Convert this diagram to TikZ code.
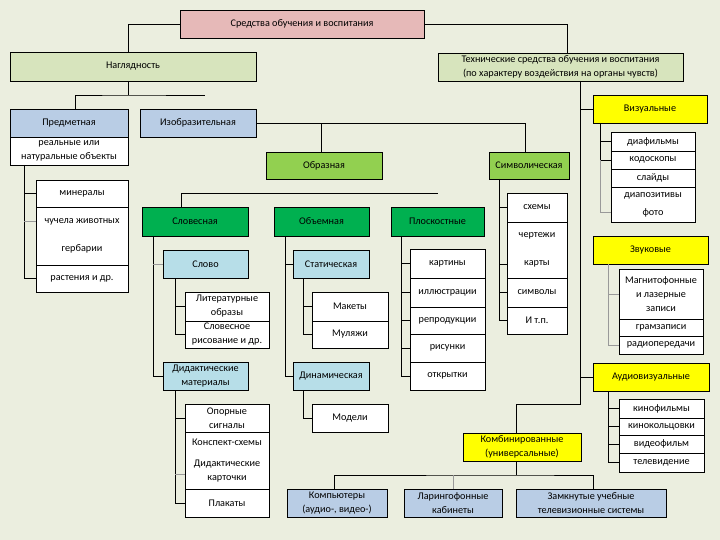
\documentclass[tikz,border=0pt]{standalone}
\usepackage{fontspec}
\setmainfont{Carlito}
\definecolor{bgcol}{HTML}{EBEEDF}
\definecolor{pinkfill}{HTML}{E6B9B8}
\definecolor{palegreen}{HTML}{D7E4BD}
\definecolor{bluegrey}{HTML}{B9CDE5}
\definecolor{limefill}{HTML}{92D050}
\definecolor{deepgreen}{HTML}{00B050}
\definecolor{skyfill}{HTML}{B7DEE8}
\definecolor{yelfill}{HTML}{FFFF00}
% box by its corners: name, x1, y1, x2, y2, style, text
\newcommand{\cellat}[7]{%
  \node[#6,minimum width={(#4)-(#2)},minimum height={(#5)-(#3)}] (#1)
    at ({((#2)+(#4))/2},{((#3)+(#5))/2}) {#7};}
\begin{document}
\begin{tikzpicture}[x=1pt,y=-1pt,
  cell/.style={draw=black,line width=0.8pt,inner sep=0pt,outer sep=0pt,align=center,
    font=\fontsize{10.2}{14}\selectfont},
  pinkbox/.style={cell,fill=pinkfill},
  palebox/.style={cell,fill=palegreen},
  greybox/.style={cell,fill=bluegrey},
  limebox/.style={cell,fill=limefill},
  deepbox/.style={cell,fill=deepgreen},
  skybox/.style={cell,fill=skyfill},
  yelbox/.style={cell,fill=yelfill},
  whitebox/.style={cell,fill=white},
  link/.style={draw=black,line width=0.7pt},
  faint/.style={draw=black!40,line width=0.7pt}]
  \fill[bgcol] (0,0) rectangle (720,540);
  \useasboundingbox (0,0) rectangle (720,540);

  \cellat{top}{180}{10}{424}{38}{pinkbox}{Средства обучения и воспитания}
  \cellat{nagl}{10}{52}{256}{81}{palebox}{Наглядность}
  \cellat{tech}{438}{53}{683}{81}{palebox}{Технические средства обучения и воспитания\\(по характеру воздействия на органы чувств)}

  % наглядность
  \cellat{predm}{10}{109}{128}{137}{greybox}{Предметная}
  \cellat{real}{10}{137}{128}{165}{whitebox}{реальные или\\натуральные объекты}
  \cellat{izobr}{140}{109}{256}{137}{greybox}{Изобразительная}
  \cellat{miner}{36}{180}{128}{207}{whitebox}{минералы}
  \cellat{chuch}{36}{207}{128}{265}{whitebox}{чучела животных\\[14pt]гербарии}
  \cellat{rast}{36}{265}{128}{292}{whitebox}{растения и др.}
  \cellat{obraz}{266}{152}{382}{179}{limebox}{Образная}
  \cellat{simv}{489}{152}{569}{179}{limebox}{Символическая}
  \cellat{slovesn}{142}{207}{248}{236}{deepbox}{Словесная}
  \cellat{obem}{274}{207}{369}{236}{deepbox}{Объемная}
  \cellat{plosk}{391}{207}{484}{236}{deepbox}{Плоскостные}
  \cellat{slovo}{163}{250}{248}{278}{skybox}{Слово}
  \cellat{lit}{185}{292}{269}{321}{whitebox}{Литературные\\образы}
  \cellat{slovris}{185}{321}{269}{348}{whitebox}{Словесное\\рисование и др.}
  \cellat{didak}{163}{362}{248}{390}{skybox}{Дидактические\\материалы}
  \cellat{opor}{185}{404}{269}{432}{whitebox}{Опорные\\сигналы}
  \cellat{konsp}{185}{432}{269}{489}{whitebox}{Конспект-схемы\\[7pt]Дидактические\\карточки}
  \cellat{plak}{185}{489}{269}{517}{whitebox}{Плакаты}
  \cellat{stat}{293}{250}{369}{278}{skybox}{Статическая}
  \cellat{maket}{312}{292}{388}{321}{whitebox}{Макеты}
  \cellat{mulyazh}{312}{321}{388}{348}{whitebox}{Муляжи}
  \cellat{dinam}{293}{362}{369}{390}{skybox}{Динамическая}
  \cellat{model}{312}{404}{388}{432}{whitebox}{Модели}
  \cellat{kart}{410}{249}{485}{278}{whitebox}{картины}
  \cellat{illy}{410}{278}{485}{307}{whitebox}{иллюстрации}
  \cellat{repr}{410}{307}{485}{334}{whitebox}{репродукции}
  \cellat{risun}{410}{334}{485}{362}{whitebox}{рисунки}
  \cellat{otkr}{410}{362}{485}{390}{whitebox}{открытки}
  \cellat{schem}{507}{193}{567}{222}{whitebox}{схемы}
  \cellat{chert}{507}{222}{567}{278}{whitebox}{чертежи\\[14pt]карты}
  \cellat{symb}{507}{278}{567}{307}{whitebox}{символы}
  \cellat{itp}{507}{307}{567}{334}{whitebox}{И т.п.}

  % технические средства
  \cellat{vis}{593}{95}{707}{123}{yelbox}{Визуальные}
  \cellat{diaf}{611}{132}{695}{151}{whitebox}{диафильмы}
  \cellat{kodo}{611}{151}{695}{169}{whitebox}{кодоскопы}
  \cellat{slaid}{611}{169}{695}{187}{whitebox}{слайды}
  \cellat{diapo}{611}{187}{695}{222}{whitebox}{диапозитивы\\[4pt]фото}
  \cellat{zvuk}{593}{236}{708}{264}{yelbox}{Звуковые}
  \cellat{magn}{619}{269}{703}{319}{whitebox}{Магнитофонные\\и лазерные\\записи}
  \cellat{gram}{619}{319}{703}{336}{whitebox}{грамзаписи}
  \cellat{radio}{619}{336}{703}{354}{whitebox}{радиопередачи}
  \cellat{audvis}{593}{363}{709}{391}{yelbox}{Аудиовизуальные}
  \cellat{kinof}{619}{399}{704}{418}{whitebox}{кинофильмы}
  \cellat{kinok}{619}{418}{704}{435}{whitebox}{кинокольцовки}
  \cellat{video}{619}{435}{704}{453}{whitebox}{видеофильм}
  \cellat{telev}{619}{453}{704}{472}{whitebox}{телевидение}
  \cellat{komb}{463}{433}{581}{461}{yelbox}{Комбинированные\\(универсальные)}
  \cellat{comp}{287}{489}{387}{517}{greybox}{Компьютеры\\(аудио-, видео-)}
  \cellat{lingaf}{404}{489}{502}{517}{greybox}{Ларингофонные\\кабинеты}
  \cellat{zamk}{516}{489}{666}{517}{greybox}{Замкнутые учебные\\телевизионные системы}

  % connectors
  \draw[link] (top.west) -| (nagl.north -| predm.east);
  \draw[link] (top.east) -| ([xshift=7pt]tech.north);
  \coordinate (nj) at ([yshift=-14pt]nagl.south -| predm.east);
  \draw[link] (nagl.south -| nj) -- (nj);
  \draw[link] ([xshift=6pt]predm.north) |- (nj) -- ([xshift=7pt]izobr.north |- nj);

  \coordinate (pa) at ([xshift=14pt]real.south west);
  \coordinate (chu) at ([yshift=15pt]chuch.west);
  \draw[link] (pa) |- (rast.west);
  \draw[link] (pa |- miner.west) -- (miner.west);
  \draw[faint] (pa |- chu) -- (chu);

  \draw[link] (izobr.east) -| ([xshift=-4pt]simv.north);
  \draw[link] ([xshift=-3pt]obraz.north) -- ([xshift=-3pt]obraz.north |- izobr.east);
  \draw[link] ([xshift=-14pt]slovesn.north) -- ++(0,-14) -- ([yshift=14pt]plosk.north);

  \coordinate (sa) at ([xshift=11pt]slovesn.south west);
  \draw[link] (sa) |- (didak.west);
  \draw[faint] (sa |- slovo.west) -- (slovo.west);
  \coordinate (sb) at ([xshift=12pt]slovo.south west);
  \draw[link] (sb) |- (slovris.west);
  \draw[link] (sb |- lit.west) -- (lit.west);
  \coordinate (sc) at ([xshift=12pt]didak.south west);
  \coordinate (kon) at ([yshift=-14pt]konsp.west);
  \draw[link] (sc) |- (plak.west);
  \draw[link] (sc |- opor.west) -- (opor.west);
  \draw[faint] (sc |- kon) -- (kon);

  \coordinate (oa) at ([xshift=11pt]obem.south west);
  \draw[link] (oa) |- (dinam.west);
  \draw[link] (oa |- stat.west) -- (stat.west);
  \coordinate (ob) at ([xshift=10pt]stat.south west);
  \draw[link] (ob) |- (mulyazh.west);
  \draw[link] (ob |- maket.west) -- (maket.west);
  \draw[link] ([xshift=10pt]dinam.south west) |- (model.west);

  \coordinate (pb) at ([xshift=10pt]plosk.south west);
  \draw[link] (pb) |- (otkr.west);
  \foreach \n in {kart,illy,repr,risun}
    \draw[link] (pb |- \n.west) -- (\n.west);

  \coordinate (sy) at ([xshift=10pt]simv.south west);
  \coordinate (kar) at ([yshift=-14pt]chert.west);
  \draw[link] (sy) |- (itp.west);
  \draw[link] (sy |- schem.west) -- (schem.west);
  \draw[link] (sy |- symb.west) -- (symb.west);
  \draw[link] (sy |- kar) -- (kar);

  \coordinate (tv) at ([xshift=20pt]tech.south);
  \draw[link] (tv) -- ++(0,323) -| ([xshift=-6pt]komb.north);
  \draw[link] (vis.west) -- (vis.west -| tv);
  \draw[link] (audvis.west) -- (audvis.west -| tv);

  \coordinate (va) at ([xshift=7pt]vis.south west);
  \coordinate (fo) at ([yshift=-8pt]diapo.west);
  \draw[link] (va) |- (kodo.west);
  \draw[link] (va |- diaf.west) -- (diaf.west);
  \draw[faint] (va |- kodo.west) |- (fo);
  \coordinate (za) at ([xshift=15pt]zvuk.south west);
  \draw[faint] (za) |- (radio.west);
  \draw[faint] (za |- magn.west) -- (magn.west);
  \coordinate (aa) at ([xshift=15pt]audvis.south west);
  \draw[link] (aa) |- (telev.west);
  \foreach \n in {kinof,kinok,video}
    \draw[link] (aa |- \n.west) -- (\n.west);

  \draw[link] ([xshift=-6pt]komb.south) -- ++(0,14) coordinate (kj);
  \draw[link] ([xshift=-3pt]comp.north) |- (kj) -| ([xshift=2pt]zamk.north);
  \draw[faint] (lingaf.north) -- (lingaf.north |- kj);
\end{tikzpicture}
\end{document}
